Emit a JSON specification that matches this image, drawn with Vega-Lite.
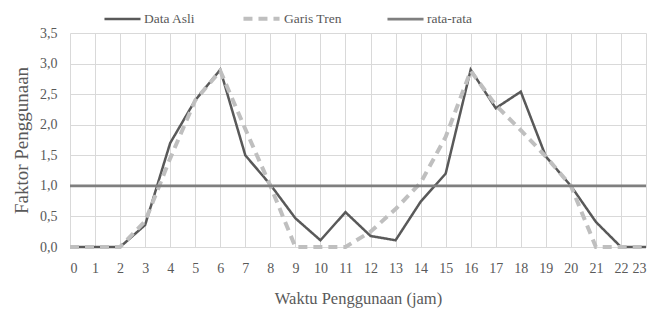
{
  "$schema": "https://vega.github.io/schema/vega-lite/v6.json",
  "width": 576,
  "height": 214,
  "autosize": {"type": "none"},
  "padding": {"left": 70, "top": 33, "right": 20, "bottom": 64},
  "background": "white",
  "config": {
    "view": {"stroke": null},
    "font": "Liberation Serif",
    "axis": {"labelFont": "Liberation Serif", "titleFont": "Liberation Serif", "labelColor": "#595959", "titleColor": "#595959", "gridColor": "#d9d9d9", "gridWidth": 1, "domain": false, "ticks": false, "titleFontWeight": "normal"},
    "legend": {"labelFont": "Liberation Serif", "labelColor": "#595959"}
  },
  "data": {
    "values": [
      {"jam": 0, "nilai": 0.0, "seri": "Data Asli"},
      {"jam": 1, "nilai": 0.0, "seri": "Data Asli"},
      {"jam": 2, "nilai": 0.0, "seri": "Data Asli"},
      {"jam": 3, "nilai": 0.36, "seri": "Data Asli"},
      {"jam": 4, "nilai": 1.7, "seri": "Data Asli"},
      {"jam": 5, "nilai": 2.4, "seri": "Data Asli"},
      {"jam": 6, "nilai": 2.9, "seri": "Data Asli"},
      {"jam": 7, "nilai": 1.5, "seri": "Data Asli"},
      {"jam": 8, "nilai": 1.02, "seri": "Data Asli"},
      {"jam": 9, "nilai": 0.47, "seri": "Data Asli"},
      {"jam": 10, "nilai": 0.11, "seri": "Data Asli"},
      {"jam": 11, "nilai": 0.57, "seri": "Data Asli"},
      {"jam": 12, "nilai": 0.18, "seri": "Data Asli"},
      {"jam": 13, "nilai": 0.11, "seri": "Data Asli"},
      {"jam": 14, "nilai": 0.74, "seri": "Data Asli"},
      {"jam": 15, "nilai": 1.2, "seri": "Data Asli"},
      {"jam": 16, "nilai": 2.9, "seri": "Data Asli"},
      {"jam": 17, "nilai": 2.27, "seri": "Data Asli"},
      {"jam": 18, "nilai": 2.54, "seri": "Data Asli"},
      {"jam": 19, "nilai": 1.48, "seri": "Data Asli"},
      {"jam": 20, "nilai": 1.0, "seri": "Data Asli"},
      {"jam": 21, "nilai": 0.41, "seri": "Data Asli"},
      {"jam": 22, "nilai": 0.0, "seri": "Data Asli"},
      {"jam": 23, "nilai": 0.0, "seri": "Data Asli"},
      {"jam": 0, "nilai": 0.0, "seri": "Garis Tren"},
      {"jam": 1, "nilai": 0.0, "seri": "Garis Tren"},
      {"jam": 2, "nilai": 0.0, "seri": "Garis Tren"},
      {"jam": 3, "nilai": 0.42, "seri": "Garis Tren"},
      {"jam": 4, "nilai": 1.45, "seri": "Garis Tren"},
      {"jam": 5, "nilai": 2.4, "seri": "Garis Tren"},
      {"jam": 6, "nilai": 2.88, "seri": "Garis Tren"},
      {"jam": 7, "nilai": 1.93, "seri": "Garis Tren"},
      {"jam": 8, "nilai": 1.0, "seri": "Garis Tren"},
      {"jam": 9, "nilai": 0.0, "seri": "Garis Tren"},
      {"jam": 10, "nilai": 0.0, "seri": "Garis Tren"},
      {"jam": 11, "nilai": 0.0, "seri": "Garis Tren"},
      {"jam": 12, "nilai": 0.25, "seri": "Garis Tren"},
      {"jam": 13, "nilai": 0.62, "seri": "Garis Tren"},
      {"jam": 14, "nilai": 1.05, "seri": "Garis Tren"},
      {"jam": 15, "nilai": 1.8, "seri": "Garis Tren"},
      {"jam": 16, "nilai": 2.88, "seri": "Garis Tren"},
      {"jam": 17, "nilai": 2.32, "seri": "Garis Tren"},
      {"jam": 18, "nilai": 1.91, "seri": "Garis Tren"},
      {"jam": 19, "nilai": 1.48, "seri": "Garis Tren"},
      {"jam": 20, "nilai": 1.0, "seri": "Garis Tren"},
      {"jam": 21, "nilai": 0.0, "seri": "Garis Tren"},
      {"jam": 22, "nilai": 0.0, "seri": "Garis Tren"},
      {"jam": 23, "nilai": 0.0, "seri": "Garis Tren"},
      {"jam": 0, "nilai": 1.0, "seri": "rata-rata"},
      {"jam": 1, "nilai": 1.0, "seri": "rata-rata"},
      {"jam": 2, "nilai": 1.0, "seri": "rata-rata"},
      {"jam": 3, "nilai": 1.0, "seri": "rata-rata"},
      {"jam": 4, "nilai": 1.0, "seri": "rata-rata"},
      {"jam": 5, "nilai": 1.0, "seri": "rata-rata"},
      {"jam": 6, "nilai": 1.0, "seri": "rata-rata"},
      {"jam": 7, "nilai": 1.0, "seri": "rata-rata"},
      {"jam": 8, "nilai": 1.0, "seri": "rata-rata"},
      {"jam": 9, "nilai": 1.0, "seri": "rata-rata"},
      {"jam": 10, "nilai": 1.0, "seri": "rata-rata"},
      {"jam": 11, "nilai": 1.0, "seri": "rata-rata"},
      {"jam": 12, "nilai": 1.0, "seri": "rata-rata"},
      {"jam": 13, "nilai": 1.0, "seri": "rata-rata"},
      {"jam": 14, "nilai": 1.0, "seri": "rata-rata"},
      {"jam": 15, "nilai": 1.0, "seri": "rata-rata"},
      {"jam": 16, "nilai": 1.0, "seri": "rata-rata"},
      {"jam": 17, "nilai": 1.0, "seri": "rata-rata"},
      {"jam": 18, "nilai": 1.0, "seri": "rata-rata"},
      {"jam": 19, "nilai": 1.0, "seri": "rata-rata"},
      {"jam": 20, "nilai": 1.0, "seri": "rata-rata"},
      {"jam": 21, "nilai": 1.0, "seri": "rata-rata"},
      {"jam": 22, "nilai": 1.0, "seri": "rata-rata"},
      {"jam": 23, "nilai": 1.0, "seri": "rata-rata"}
    ]
  },
  "mark": {"type": "line", "strokeCap": "butt"},
  "encoding": {
    "x": {
      "field": "jam", "type": "quantitative",
      "scale": {"domain": [0, 23], "nice": false, "zero": false},
      "axis": {"values": [0,1,2,3,4,5,6,7,8,9,10,11,12,13,14,15,16,17,18,19,20,21,22,23], "format": "d", "labelFontSize": 14, "labelPadding": 14, "title": "Waktu Penggunaan (jam)", "titleFontSize": 16.5, "titlePadding": 15}
    },
    "y": {
      "field": "nilai", "type": "quantitative",
      "scale": {"domain": [0, 3.5], "nice": false},
      "axis": {"values": [0, 0.5, 1, 1.5, 2, 2.5, 3, 3.5], "labelExpr": "replace(format(datum.value, '.1f'), '.', ',')", "labelFontSize": 14, "labelPadding": 13, "title": "Faktor Penggunaan", "titleFontSize": 19, "titlePadding": 8}
    },
    "color": {
      "field": "seri", "type": "nominal",
      "scale": {"domain": ["Data Asli", "Garis Tren", "rata-rata"], "range": ["#595959", "#bfbfbf", "#7f7f7f"]},
      "legend": {"title": null, "orient": "none", "direction": "horizontal", "legendX": 33, "legendY": -35, "symbolType": "stroke", "symbolSize": 1300, "labelFontSize": 13.5, "labelOffset": 2, "columnPadding": 39}
    },
    "strokeDash": {
      "field": "seri", "type": "nominal",
      "scale": {"domain": ["Data Asli", "Garis Tren", "rata-rata"], "range": [[1, 0], [9, 6], [1, 0]]},
      "legend": null
    },
    "strokeWidth": {
      "field": "seri", "type": "nominal",
      "scale": {"type": "ordinal", "domain": ["Data Asli", "Garis Tren", "rata-rata"], "range": [2.5, 4, 2.75]},
      "legend": null
    }
  }
}
